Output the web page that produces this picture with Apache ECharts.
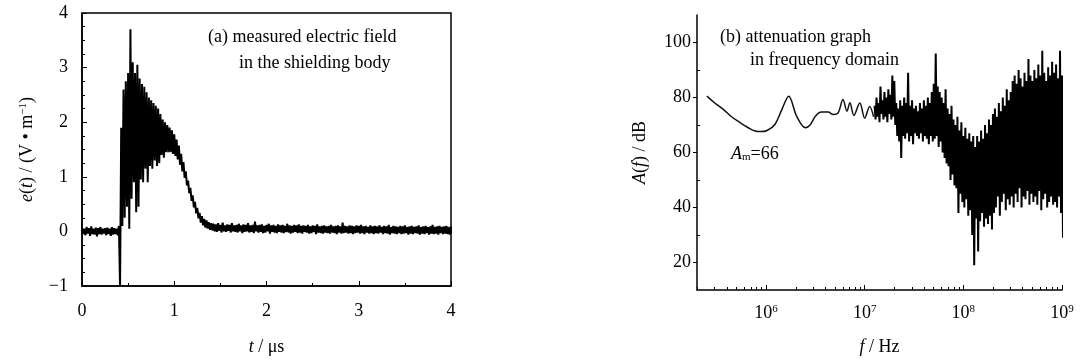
<!DOCTYPE html>
<html>
<head>
<meta charset="utf-8">
<script src="https://cdn.jsdelivr.net/npm/echarts@6/dist/echarts.min.js"></script>
<style>
  html, body { margin: 0; padding: 0; background: #fff; }
  #chart { width: 1083px; height: 361px; }
</style>
</head>
<body>
<div id="chart"></div>
<script>
// (a) measured field, trace sampled every 0.025 us: upper / lower excursion (V/m)
const tStep = 0.025;
const baseHigh = [0.07, 0.05, 0.08, 0.06, 0.09, 0.05, 0.07, 0.06, 0.08, 0.05, 0.06, 0.07, 0.05, 0.08, 0.06, 0.05];
const baseLow = [-0.05, -0.07, -0.04, -0.08, -0.05, -0.06, -0.09, -0.05, -0.06, -0.04, -0.07, -0.05, -0.08, -0.06, -0.05, -0.07];
const burstHigh = [0.10, 1.90, 2.60, 2.75, 2.90, 3.70, 3.10, 2.90, 3.05, 2.80, 2.70, 2.65, 2.55, 2.45, 2.40, 2.35, 2.30, 2.25, 2.15, 2.05,
  2.00, 1.95, 1.90, 1.85, 1.78, 1.68, 1.57, 1.42, 1.27, 1.10, 0.93, 0.80, 0.66, 0.54, 0.43, 0.34, 0.28, 0.23, 0.20, 0.17, 0.15];
const burstLow = [-1.0, 0.10, 0.25, 0.45, 0.05, 0.60, 0.90, 0.35, 0.45, 0.95, 0.90, 1.15, 0.90, 1.20, 1.15, 1.30, 1.20, 1.25, 1.40, 1.35,
  1.45, 1.45, 1.45, 1.42, 1.38, 1.32, 1.22, 1.10, 0.98, 0.84, 0.70, 0.56, 0.44, 0.33, 0.24, 0.16, 0.11, 0.07, 0.05, 0.03, 0.02];
const tailHigh = [0.14, 0.13, 0.15, 0.12, 0.16, 0.11, 0.13, 0.12, 0.15, 0.11,
  0.12, 0.14, 0.11, 0.13, 0.12, 0.15, 0.11, 0.12, 0.18, 0.11,
  0.12, 0.13, 0.10, 0.12, 0.14, 0.11, 0.12, 0.10, 0.13, 0.11,
  0.12, 0.10, 0.14, 0.11, 0.10, 0.12, 0.11, 0.13, 0.10, 0.11,
  0.10, 0.12, 0.09, 0.11, 0.10, 0.13, 0.09, 0.10, 0.11, 0.09,
  0.10, 0.12, 0.09, 0.10, 0.11, 0.09, 0.16, 0.10, 0.09, 0.11,
  0.10, 0.09, 0.11, 0.10, 0.12, 0.09, 0.10, 0.08, 0.11, 0.09,
  0.10, 0.09, 0.11, 0.08, 0.10, 0.09, 0.12, 0.08, 0.10, 0.09,
  0.08, 0.10, 0.09, 0.11, 0.08, 0.09, 0.10, 0.08, 0.09, 0.11,
  0.08, 0.09, 0.10, 0.08, 0.09, 0.12, 0.08, 0.09, 0.10, 0.08,
  0.09, 0.10, 0.08, 0.09];
const tailLow = [0.00, -0.01, 0.01, -0.02, 0.00, -0.01, 0.01, -0.02, 0.00, -0.01,
  -0.02, 0.00, -0.03, -0.01, 0.00, -0.02, -0.01, -0.03, 0.00, -0.02,
  -0.01, -0.03, -0.02, 0.00, -0.04, -0.01, -0.02, -0.03, -0.01, -0.02,
  -0.03, -0.01, -0.02, -0.04, -0.02, -0.01, -0.03, -0.02, -0.04, -0.01,
  -0.02, -0.04, -0.03, -0.01, -0.05, -0.02, -0.03, -0.04, -0.02, -0.03,
  -0.04, -0.02, -0.03, -0.05, -0.02, -0.04, -0.03, -0.02, -0.04, -0.03,
  -0.05, -0.03, -0.02, -0.04, -0.03, -0.05, -0.02, -0.04, -0.03, -0.05,
  -0.03, -0.04, -0.02, -0.05, -0.03, -0.04, -0.06, -0.03, -0.04, -0.05,
  -0.03, -0.05, -0.04, -0.03, -0.06, -0.04, -0.05, -0.03, -0.04, -0.06,
  -0.04, -0.05, -0.03, -0.06, -0.04, -0.05, -0.04, -0.06, -0.03, -0.05,
  -0.04, -0.05, -0.06, -0.04];

// (b) attenuation, x = log10(f / Hz), y in dB
const smoothLogF = [5.40, 5.48, 5.57, 5.65, 5.74, 5.82, 5.89, 5.95, 6.01, 6.09, 6.16, 6.23, 6.31, 6.40, 6.45, 6.50,
  6.56, 6.63, 6.68, 6.73, 6.78, 6.82, 6.85, 6.89, 6.95, 7.00, 7.05, 7.09];
const smoothDb = [80.5, 78.0, 75.6, 73.0, 70.8, 69.0, 67.8, 67.6, 68.0, 70.2, 75.6, 80.5, 73.2, 69.0, 70.2, 73.2,
  74.7, 74.7, 73.8, 74.4, 79.3, 75.0, 78.1, 73.5, 78.0, 72.5, 76.7, 73.0];
const noiseLogStart = 7.10;
const noiseLogStep = 0.02;
const attHigh = [77, 80, 78, 84, 79, 82, 80, 83, 81, 88, 86,
  78, 76, 79, 77, 80, 78, 89, 77, 79, 76,
  77, 75, 78, 76, 79, 77, 80, 78, 82, 85,
  96, 84, 82, 80, 78, 83, 76, 74, 77, 72,
  70, 73, 68, 71, 66, 69, 65, 67, 64, 66,
  62, 66, 64, 68, 65, 70, 67, 72, 70, 74,
  76, 73, 78, 75, 80, 77, 83, 79, 82, 86,
  88, 85, 90, 87, 84, 89, 86, 94, 88, 86,
  90, 87, 92, 88, 97, 89, 86, 91, 88, 93,
  89, 92, 87, 97, 88];
const attLow = [72, 73, 71, 74, 72, 73, 71, 74, 72, 73, 70,
  66, 64, 58, 66, 65, 67, 64, 66, 63, 67,
  66, 65, 67, 64, 66, 65, 63, 66, 64, 65,
  66, 62, 64, 60, 58, 56, 55, 50, 52, 48,
  47, 38, 45, 42, 40, 43, 37, 39, 30, 19,
  36, 24, 35, 38, 33, 36, 34, 37, 32, 38,
  40, 44, 37, 42, 45, 39, 43, 41, 44, 40,
  45, 42, 47, 40, 44, 43, 46, 41, 45, 42,
  44, 41, 46, 39, 43, 45, 40, 42, 44, 41,
  42, 40, 44, 38, 29];

const decades = [6, 7, 8, 9];
const dbMajor = [20, 40, 60, 80, 100];
const dbMinor = [30, 50, 70, 90];

const serif = 'Liberation Serif';

// zig-zag between the upper and lower excursion of each sample
const eHigh = baseHigh.concat(burstHigh, tailHigh);
const eLow = baseLow.concat(burstLow, tailLow);
const fieldData = [];
eHigh.forEach((v, i) => {
  const t = i * tStep;
  fieldData.push([t, v], [t + tStep / 2, eLow[i]]);
});

const smoothData = smoothLogF.map((x, i) => [x, smoothDb[i]]);
const noiseData = [];
attHigh.forEach((v, i) => {
  const x = noiseLogStart + i * noiseLogStep;
  noiseData.push([x, v], [x + noiseLogStep / 2, attLow[i]]);
});

// 2..9 x 10^n minor ticks of the log axis
const minorLog = [];
for (let n = 5; n <= 8; n++) {
  for (let k = 2; k <= 9; k++) {
    const v = n + Math.log10(k);
    if (v > 5.3 && v < 9) minorLog.push(v);
  }
}

const black = '#000';
const labelStyle = { color: black, fontFamily: serif, fontSize: 18 };
const rich = {
  i: { fontFamily: serif, fontSize: 18, fontStyle: 'italic', color: black },
  s: { fontFamily: serif, fontSize: 11, color: black, verticalAlign: 'top', padding: [0, 0, 8, 0] }
};

const chart = echarts.init(document.getElementById('chart'));
chart.setOption({
  animation: false,
  backgroundColor: '#fff',
  grid: [
    { left: 82, right: 632, top: 13, bottom: 73, show: true, borderColor: black, borderWidth: 1.5 },
    { left: 697, right: 21, top: 15, bottom: 70 }
  ],
  xAxis: [
    {
      gridIndex: 0, type: 'value', min: 0, max: 4, interval: 1,
      axisLine: { onZero: false, lineStyle: { color: black, width: 1.5 } },
      axisTick: { inside: true, length: 5, lineStyle: { color: black } },
      minorTick: { show: true, splitNumber: 2, length: 3, lineStyle: { color: black } },
      splitLine: { show: false },
      axisLabel: Object.assign({ margin: 16 }, labelStyle),
      name: '{i|t} / μs', nameLocation: 'middle', nameGap: 52,
      nameTextStyle: { fontFamily: serif, fontSize: 18, color: black, rich: rich }
    },
    {
      gridIndex: 1, type: 'value', min: 5.3, max: 9,
      axisLine: { onZero: false, lineStyle: { color: black, width: 1.5 } },
      axisTick: { inside: true, length: 5, customValues: decades, lineStyle: { color: black } },
      splitLine: { show: false },
      axisLabel: Object.assign({
        margin: 14, customValues: decades,
        formatter: (v) => '10{s|' + Math.round(v) + '}', rich: rich
      }, labelStyle),
      name: '{i|f} / Hz', nameLocation: 'middle', nameGap: 48,
      nameTextStyle: { fontFamily: serif, fontSize: 18, color: black, rich: rich }
    },
    {
      gridIndex: 1, type: 'value', min: 5.3, max: 9, position: 'bottom',
      axisLine: { show: false, onZero: false },
      axisTick: { inside: true, length: 3, customValues: minorLog, lineStyle: { color: black } },
      axisLabel: { show: false },
      splitLine: { show: false }
    }
  ],
  yAxis: [
    {
      gridIndex: 0, type: 'value', min: -1, max: 4, interval: 1,
      axisLine: { onZero: false, lineStyle: { color: black, width: 1.5 } },
      axisTick: { inside: true, length: 5, lineStyle: { color: black } },
      minorTick: { show: true, splitNumber: 4, length: 3, lineStyle: { color: black } },
      splitLine: { show: false },
      axisLabel: Object.assign({
        margin: 14, formatter: (v) => (v < 0 ? '\u2212' + Math.abs(v) : String(v))
      }, labelStyle),
      name: '{i|e}({i|t}) / (V \u2022 m{s|\u22121})', nameLocation: 'middle', nameGap: 45,
      nameTextStyle: { fontFamily: serif, fontSize: 18, color: black, rich: rich }
    },
    {
      gridIndex: 1, type: 'value', min: 10, max: 110,
      axisLine: { onZero: false, lineStyle: { color: black, width: 1.5 } },
      axisTick: { inside: false, length: 4, customValues: dbMajor, lineStyle: { color: black } },
      splitLine: { show: false },
      axisLabel: Object.assign({ margin: 6, customValues: dbMajor }, labelStyle),
      name: '{i|A}({i|f}) / dB', nameLocation: 'middle', nameGap: 48,
      nameTextStyle: { fontFamily: serif, fontSize: 18, color: black, rich: rich }
    },
    {
      gridIndex: 1, type: 'value', min: 10, max: 110, position: 'left',
      axisLine: { show: false, onZero: false },
      axisTick: { inside: true, length: 3, customValues: dbMinor, lineStyle: { color: black } },
      axisLabel: { show: false },
      splitLine: { show: false }
    }
  ],
  series: [
    {
      type: 'line', xAxisIndex: 0, yAxisIndex: 0, data: fieldData,
      showSymbol: false, lineStyle: { color: '#000', width: 2 }
    },
    {
      type: 'line', xAxisIndex: 1, yAxisIndex: 1, data: smoothData, smooth: 0.35,
      showSymbol: false, lineStyle: { color: '#111', width: 1.5 }
    },
    {
      type: 'line', xAxisIndex: 1, yAxisIndex: 1, data: noiseData,
      showSymbol: false, lineStyle: { color: '#000', width: 2 }
    }
  ],
  graphic: [
    { type: 'text', left: 208, top: 28, style: { text: '(a) measured electric field', font: '18px "Liberation Serif"', fill: black } },
    { type: 'text', left: 239, top: 54, style: { text: 'in the shielding body', font: '18px "Liberation Serif"', fill: black } },
    { type: 'text', left: 720, top: 28, style: { text: '(b) attenuation graph', font: '18px "Liberation Serif"', fill: black } },
    { type: 'text', left: 750, top: 51, style: { text: 'in frequency domain', font: '18px "Liberation Serif"', fill: black } },
    {
      type: 'text', left: 731, top: 145,
      style: {
        text: '{i|A}{m|m}=66', font: '18px "Liberation Serif"', fill: black,
        rich: {
          i: { fontFamily: serif, fontSize: 18, fontStyle: 'italic', fill: black },
          m: { fontFamily: serif, fontSize: 11, fill: black, verticalAlign: 'bottom', padding: [6, 0, 0, 0] }
        }
      }
    }
  ]
});
</script>
</body>
</html>
